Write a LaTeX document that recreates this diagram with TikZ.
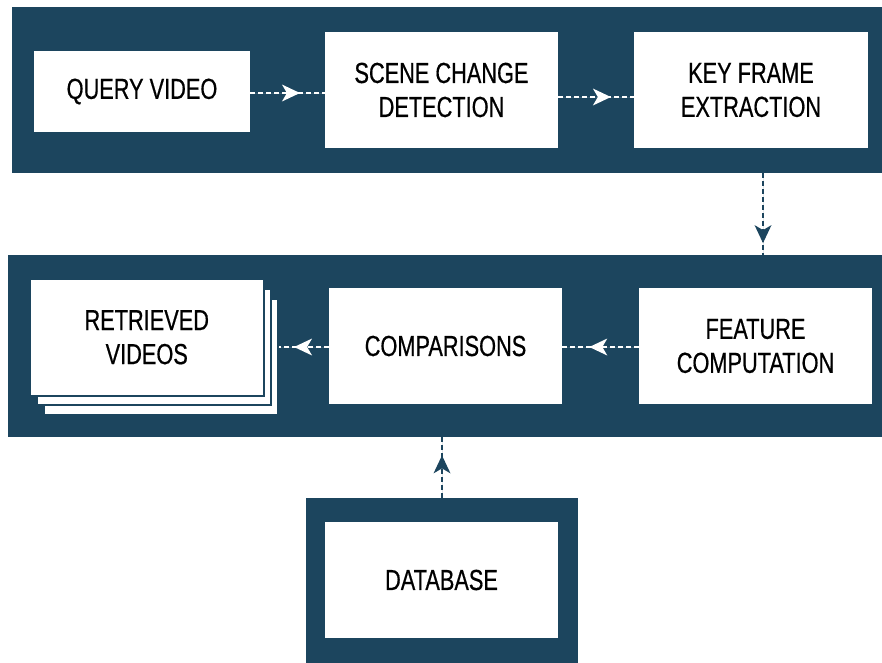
\documentclass[tikz,border=0pt]{standalone}
\usepackage{fontspec}
\setmainfont{Liberation Sans}[FakeStretch=0.75,FakeBold=0.5]
\usetikzlibrary{decorations.markings}
\definecolor{navy}{RGB}{28,69,94}
\tikzset{
  band/.style={fill=navy,draw=none,inner sep=0pt,anchor=north west},
  stagebox/.style={fill=white,draw=none,inner sep=0pt,align=center,
    font=\fontsize{29}{34}\selectfont},
  sheet/.style={fill=white,draw=navy,line width=1.5pt,inner sep=0pt,anchor=north west},
  flowline/.style={line width=2pt,dash pattern=on 5pt off 3pt},
  % a stealth-shaped head placed along the connector
  midarrow/.style={postaction={decorate,decoration={markings,
    mark=at position #1 with {\fill[solid] (-16pt,-8.5pt) -- (2pt,0pt) -- (-16pt,8.5pt) -- (-11pt,0pt) -- cycle;}}}},
  inband/.style={flowline,draw=white,fill=white},
  outband/.style={flowline,draw=navy,fill=navy},
}
\begin{document}
\begin{tikzpicture}[x=1pt,y=-1pt]
\useasboundingbox (0,0) rectangle (882,662);
% dark panels
\node[band,minimum width=876pt,minimum height=166pt] (band1) at (12,7) {};
\node[band,minimum width=880pt,minimum height=182pt] (band2) at (8,255) {};
\node[band,minimum width=272pt,minimum height=170pt] (dbframe) at (306,498) {};
% top row
\node[stagebox,minimum width=216pt,minimum height=81pt] (q) at (142,91.5) {QUERY VIDEO};
\node[stagebox,minimum width=233pt,minimum height=116pt] (s) at (441.5,90) {SCENE CHANGE\\DETECTION};
\node[stagebox,minimum width=234pt,minimum height=116pt] (k) at (751,90) {KEY FRAME\\EXTRACTION};
% second row
\node[sheet,minimum width=234pt,minimum height=116pt] (r3) at (43,298) {};
\node[sheet,minimum width=234pt,minimum height=116pt] (r2) at (36,288) {};
\node[sheet,minimum width=234pt,minimum height=117pt] (r1) at (29,278) {};
\node[stagebox,fill=none] (r) at (r1.center) {RETRIEVED\\VIDEOS};
\node[stagebox,minimum width=233pt,minimum height=116pt] (c) at (445.5,346) {COMPARISONS};
\node[stagebox,minimum width=233pt,minimum height=116pt] (f) at (755.5,346) {FEATURE\\COMPUTATION};
% database
\node[stagebox,minimum width=233pt,minimum height=116pt] (db) at (441.5,580) {DATABASE};
% connectors
\draw[inband,midarrow=0.64] (q.east |- 0,93) -- (s.west |- 0,93);
\draw[inband,midarrow=0.67] (s.east |- 0,97) -- (k.west |- 0,97);
\coordinate (drop) at (763,173);
\draw[outband,midarrow=0.83] (drop) -- (drop |- band2.north);
\draw[inband,midarrow=0.62] (f.west |- 0,347) -- (c.east |- 0,347);
\draw[inband,midarrow=0.65] (c.west |- 0,347) -- (r3.east |- 0,347);
\coordinate (rise) at (442,498);
\draw[outband,midarrow=0.67] (rise) -- (rise |- band2.south);
\end{tikzpicture}
\end{document}
